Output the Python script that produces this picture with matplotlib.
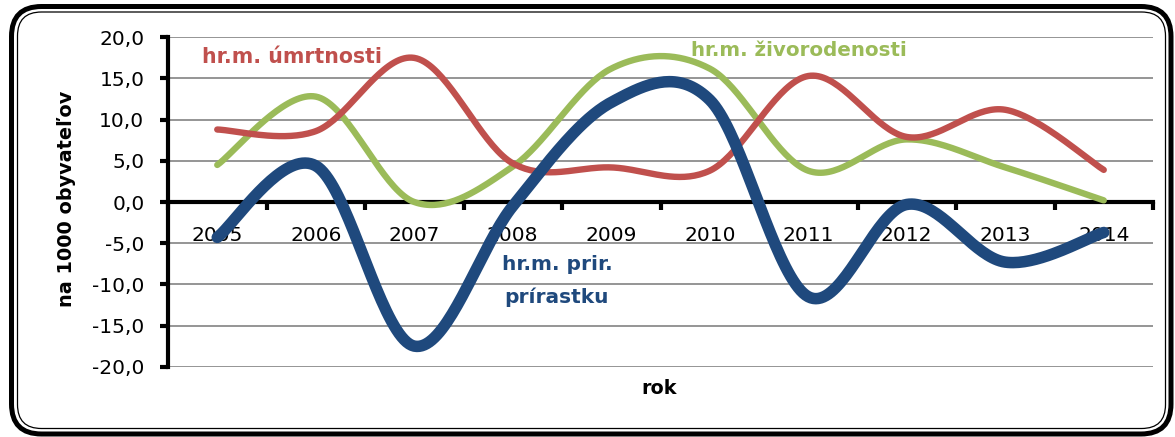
import numpy as np
import matplotlib
matplotlib.use("Agg")
import matplotlib.pyplot as plt
from matplotlib.patches import FancyBboxPatch
from matplotlib.transforms import IdentityTransform
from matplotlib.ticker import FuncFormatter

years = ["2005", "2006", "2007", "2008", "2009", "2010", "2011", "2012", "2013", "2014"]
umrtnost = [8.8, 8.6, 17.5, 4.7, 4.2, 3.8, 15.3, 7.9, 11.2, 3.9]
zivorodenost = [4.5, 12.8, 0.0, 4.3, 16.2, 16.2, 3.8, 7.6, 4.2, 0.2]
prirastok = [-4.3, 4.4, -17.5, -0.5, 12.1, 12.4, -11.5, -0.3, -7.3, -3.7]
yticks = [-20, -15, -10, -5, 0, 5, 10, 15, 20]

RED = "#C0504D"
GREEN = "#9BBB59"
BLUE = "#1F497D"


def excel_smooth(y, n=40):
    """Bezier smoothing like Excel's smoothed line (Catmull-Rom, tension 1/6)."""
    x = np.arange(len(y), dtype=float)
    y = np.asarray(y, dtype=float)
    P = np.column_stack([x, y])
    out = []
    t = np.linspace(0, 1, n)[:, None]
    for i in range(len(P) - 1):
        p0 = P[i]
        p1 = P[i + 1]
        pm = P[i - 1] if i > 0 else P[i]
        pp = P[i + 2] if i + 2 < len(P) else P[i + 1]
        c1 = p0 + (p1 - pm) / 6.0
        c2 = p1 - (pp - p0) / 6.0
        seg = ((1 - t) ** 3) * p0 + 3 * ((1 - t) ** 2) * t * c1 + 3 * (1 - t) * t ** 2 * c2 + t ** 3 * p1
        out.append(seg if i == 0 else seg[1:])
    arr = np.vstack(out)
    return arr[:, 0], arr[:, 1]


W, H = 1175, 437
fig = plt.figure(figsize=(W / 100, H / 100), dpi=100)
plt.rcParams['font.family'] = ['DejaVu Sans']

ax = fig.add_axes([168 / W, (H - 366.7) / H, (1153 - 168) / W, (366.7 - 37.3) / H])
ax.set_xlim(-0.5, len(years) - 0.5)
ax.set_ylim(-20, 20)

# grid
ax.set_yticks(yticks)
ax.yaxis.grid(True, color="#8C8C8C", linewidth=1.3)
ax.set_axisbelow(True)

for vals, col, lw, z in [(zivorodenost, GREEN, 4.6, 3), (umrtnost, RED, 4.6, 4), (prirastok, BLUE, 8.3, 5)]:
    xs, ys = excel_smooth(vals)
    ax.plot(xs, ys, color=col, linewidth=lw, solid_capstyle="round", solid_joinstyle="round", zorder=z)

# spines
for s in ["top", "right"]:
    ax.spines[s].set_visible(False)
ax.spines["left"].set_linewidth(3)
ax.spines["bottom"].set_linewidth(3)
ax.spines["bottom"].set_position(("data", 0))
ax.spines["left"].set_zorder(6)
ax.spines["bottom"].set_zorder(2)

ax.yaxis.set_major_formatter(FuncFormatter(lambda v, p: f"{v:.1f}".replace(".", ",")))
ax.tick_params(axis="y", direction="out", length=6, width=3, pad=11, labelsize=14.5)

# x: major ticks between categories, labels at category centers
ax.set_xticks(np.arange(-0.5, len(years), 1.0))
ax.set_xticklabels([])
ax.set_xticks(np.arange(len(years)), minor=True)
ax.set_xticklabels(years, minor=True)
ax.tick_params(axis="x", which="major", direction="out", length=6, width=3)
ax.tick_params(axis="x", which="minor", length=0, pad=17, labelsize=14.5)
for lbl in ax.get_xticklabels(minor=True):
    lbl.set_zorder(4.5)

# axis labels
fig.text(67 / W, 1 - 199 / H, "na 1000 obyvateľov", rotation=90, ha="center", va="center",
         fontsize=13.9, fontweight="bold")
fig.text(659 / W, 1 - 388 / H, "rok", ha="center", va="center", fontsize=13.8, fontweight="bold")

# series annotations
fig.text(292 / W, 1 - 57 / H, "hr.m. úmrtnosti", ha="center", va="center", fontsize=14.8,
         fontweight="bold", color=RED)
fig.text(799 / W, 1 - 50 / H, "hr.m. živorodenosti", ha="center", va="center", fontsize=14.3,
         fontweight="bold", color=GREEN)
fig.text(557 / W, 1 - 265 / H, "hr.m. prir.", ha="center", va="center", fontsize=14.5,
         fontweight="bold", color=BLUE)
fig.text(557 / W, 1 - 297 / H, "prírastku", ha="center", va="center", fontsize=14.5,
         fontweight="bold", color=BLUE)

# double rounded frame (pixel coordinates)
outer = FancyBboxPatch((11.5, H - 434), 1171 - 11.5, 434 - 6.5,
                       boxstyle="round,pad=0,rounding_size=30", transform=IdentityTransform(),
                       fill=False, edgecolor="black", linewidth=3.6)
inner = FancyBboxPatch((17.5, H - 428.5), 1165.5 - 17.5, 428.5 - 12,
                       boxstyle="round,pad=0,rounding_size=24", transform=IdentityTransform(),
                       fill=False, edgecolor="black", linewidth=0.9)
fig.patches.extend([outer, inner])

fig.savefig("out.png", dpi=100)
